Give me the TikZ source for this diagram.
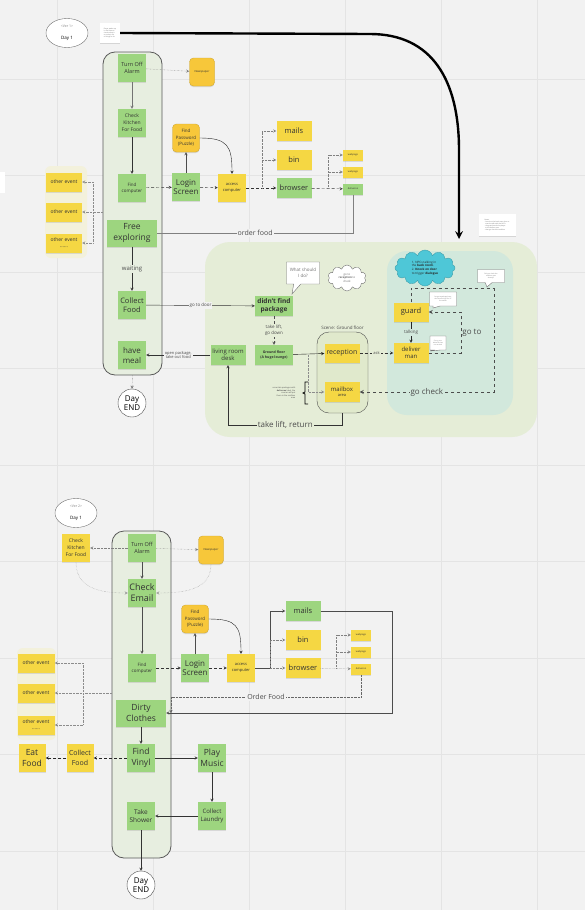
\documentclass[tikz,border=0pt]{standalone}
\usepackage{fontspec}
\setmainfont{Open Sans}
\usetikzlibrary{positioning,shapes.geometric,shapes.symbols,shapes.callouts,shadows}

\definecolor{board}{HTML}{F2F2F2}
\definecolor{gridline}{HTML}{E4E4E4}
\definecolor{notegreen}{HTML}{9DD57F}
\definecolor{noteyellow}{HTML}{F5D743}
\definecolor{noteorange}{HTML}{F7C73A}
\definecolor{lanefill}{HTML}{E7EEE0}
\definecolor{scenefill}{HTML}{E5EDD7}
\definecolor{roomfill}{HTML}{E0E9CC}
\definecolor{npcfill}{HTML}{D2E8DC}
\definecolor{cloudcyan}{HTML}{4EC7D7}
\definecolor{glow}{HTML}{F3F1DC}

\newcommand{\sz}[2]{\fontsize{#1}{#2}\selectfont}

\tikzset{
  sticky/.style={minimum width=28pt,minimum height=28pt,inner sep=1pt,align=center,
    text=black!80,drop shadow={shadow xshift=0pt,shadow yshift=-1.2pt,opacity=.22}},
  green note/.style={sticky,fill=notegreen},
  yellow note/.style={sticky,fill=noteyellow},
  orange note/.style={sticky,fill=noteorange,draw=noteorange!85!black,rounded corners=4pt,
    minimum width=25pt},
  wide note/.style={minimum width=35pt,minimum height=20pt},
  web note/.style={minimum width=20pt,minimum height=11pt,inner sep=0pt,font=\sz{2.4}{3}},
  paper/.style={fill=white,inner sep=1pt,align=left,text=black!60,font=\sz{1.6}{2},
    drop shadow={shadow xshift=0pt,shadow yshift=-1pt,opacity=.25}},
  lane/.style={draw=black!65,fill=lanefill,rounded corners=12pt,thick},
  day end/.style={circle,draw=black!70,fill=white,minimum size=28pt,inner sep=0pt,
    align=center,font=\sz{8}{9}},
  ver/.style={ellipse,draw=black!55,fill=white,minimum width=42pt,minimum height=29pt,
    inner sep=0pt,align=center},
  talk/.style={rectangle callout,draw=black!55,fill=white,align=center,text=black!55,
    inner sep=1pt},
  lbl/.style={inner sep=1pt,align=center,text=black!70},
}

\begin{document}
\begin{tikzpicture}[x=1pt,y=-1pt,>=stealth]
  \useasboundingbox (0,0) rectangle (585,910);
  \fill[board] (0,0) rectangle (585,910);
  \foreach \gx in {57,153,...,537}
    \draw[gridline,line width=1pt] (\gx,0) -- (\gx,910);
  \foreach \gy in {79,175.5,...,900}
    \draw[gridline,line width=1pt] (0,\gy) -- (585,\gy);

  % ---------- day 1 ----------
  \fill[white] (-5,172) rectangle (5,193);
  \node[ver] (day1) at (67,33) {{\sz{3.5}{4}\color{black!50}<Ver 1>}\\{\sz{4.5}{5}Day 1}};
  \node[paper,minimum width=20pt,minimum height=20pt] (memo1) at (110,33)
    {Player wakes up\\in the flat and\\checks what is\\on today's list\\of things to do};

  \node[lane,minimum width=59pt,minimum height=323pt] (lane1) at (132.5,213.5) {};
  \fill[glow,rounded corners=6pt] (45,166) rectangle (87,258);
  \fill[scenefill,rounded corners=25pt] (205,242) rectangle (537,437);
  \fill[npcfill,rounded corners=20pt] (387,251) rectangle (513,415);

  \node[green note,font=\sz{5.5}{7}] (alarm1) at (132,68) {Turn Off\\Alarm};
  \node[orange note,font=\sz{2.8}{3}] (paper1) at (202,72) {Newspaper};
  \node[green note,font=\sz{5}{7}] (kitchen1) at (132,123) {Check\\Kitchen\\For Food};
  \node[green note,font=\sz{4.5}{6}] (comp1) at (132,188) {Find\\computer};
  \node[orange note,minimum width=27pt,font=\sz{4.5}{6.5}] (pass1) at (186,138) {Find\\Password\\(Puzzle)};
  \node[green note,font=\sz{8}{9.5}] (login1) at (186,187) {Login\\Screen};
  \node[yellow note,font=\sz{4}{5.5}] (access1) at (232,188) {access\\computer};
  \node[yellow note,wide note,font=\sz{7.5}{8}] (mails1) at (294,131) {mails};
  \node[yellow note,wide note,font=\sz{7.5}{8}] (bin1) at (294,160) {bin};
  \node[green note,wide note,font=\sz{7.5}{8}] (browser1) at (294,188) {browser};
  \node[yellow note,web note] (web1a) at (353,155) {webpage};
  \node[yellow note,web note] (web1b) at (353,172) {webpage};
  \node[green note,web note] (deliv1) at (353,189) {deliveroo};
  \node[yellow note,minimum width=36pt,minimum height=19pt,font=\sz{5}{6}] (other1a) at (64,182) {other event};
  \node[yellow note,minimum width=36pt,minimum height=19pt,font=\sz{5}{6}] (other1b) at (64,212) {other event};
  \node[yellow note,minimum width=36pt,minimum height=19pt,font=\sz{5}{6}] (other1c) at (64,243) {other event\\......};
  \node[green note,minimum width=50pt,minimum height=27pt,font=\sz{8.5}{11}] (explore1) at (132,233) {Free\\exploring};
  \node[green note,font=\sz{7.5}{9.5}] (food1) at (132,305) {Collect\\Food};
  \node[green note,font=\sz{8}{10}] (meal1) at (132,355) {have\\meal};
  \node[day end] (end1) at (132,403) {Day\\END};

  % ground floor scene
  \node[green note,minimum width=38pt,minimum height=20pt,font=\sz{6.5}{7.5}\bfseries] (nofind) at (274,306) {didn't find\\package};
  \node[talk,minimum width=33pt,minimum height=22pt,font=\sz{4.5}{6},
    callout absolute pointer={(292,294)}] (what1) at (303,273) {What should\\I do?};
  \node[cloud,cloud puffs=10,aspect=1.5,draw=black!55,fill=white,minimum width=38pt,
    minimum height=26pt,inner sep=0pt,align=center,font=\sz{2.8}{3.4},text=black!60] (hint1) at (347,278)
    {go to\\\textbf{reception} to\\check};
  \node[green note,minimum width=38pt,minimum height=20pt,font=\sz{3.5}{4.5}\bfseries] (ground) at (274,355) {Ground floor\\(A huge lounge)};
  \node[green note,minimum width=35pt,minimum height=20pt,font=\sz{6}{7}] (desk) at (228,355) {living room\\desk};
  \node[lane,thin,draw=black!70,fill=roomfill,minimum width=51pt,minimum height=81pt] (scene1) at (342.5,372.5) {};
  \node[lbl,font=\sz{4.5}{5},above=1pt of scene1] (scenetitle) {Scene: Ground floor};
  \node[yellow note,wide note,minimum height=19pt,font=\sz{7}{8}] (reception) at (342,353) {reception};
  \node[yellow note,wide note,font=\sz{6}{5}] (mailbox) at (342,392) {mailbox\\{\sz{4}{5}area}};
  \node[lbl,align=right,font=\sz{2}{2.6}] (mailtip) at (284,393)
    {uncertain packages with\\\textbf{deliveroo} label, the\\courier will put\\them in the mailbox\\area};
  \draw[thick] (308,382) -- (305,382) -- (305,392) -- (303,393) -- (305,394) -- (305,404) -- (308,404);

  % npc room
  \node[cloud,cloud puffs=12,aspect=1.7,fill=cloudcyan,draw=cloudcyan!80!black,minimum width=60pt,
    minimum height=36pt,inner sep=0pt,align=left,font=\sz{3}{3.8},text=black!85] (npc1) at (425,268)
    {1. NPCs talking in\\the \textbf{back room}.\\2. \textbf{Knock on door}\\to trigger \textbf{dialogue}};
  \node[yellow note,wide note,minimum height=19pt,font=\sz{7.5}{8}] (guard) at (411,312) {guard};
  \node[yellow note,wide note,font=\sz{6}{7}] (deliver) at (411,353) {deliver\\man};
  \node[talk,minimum width=27pt,minimum height=14pt,font=\sz{1.6}{2.2},
    callout absolute pointer={(433,308)}] (say1) at (443,299) {I've got a package here,\\who should sign for it?\\the owner};
  \node[talk,minimum width=16pt,minimum height=14pt,font=\sz{1.6}{2.2},
    callout absolute pointer={(430,351)}] (say2) at (438,343) {Sorry, your\\deliveroo has\\not arrived};
  \node[talk,minimum width=27pt,minimum height=13pt,font=\sz{1.6}{2.2},
    callout absolute pointer={(487,287)}] (say3) at (491,276) {Did you check the\\mailbox area\\already?};
  \node[paper,minimum width=37pt,minimum height=22pt] (memo2) at (497,225)
    {Notes:\\- knock on the back room door to\\\ \ start the talk with the NPCs\\- the guard sends the player\\\ \ to the deliver man\\- then go check the mailbox};

  % ---------- day 1 connectors ----------
  \draw[line width=2.4pt,->] (memo1.east) -- (370,34) .. controls (432,34) and (459,80) .. (459,150) -- (459,239);
  \draw[->,densely dotted,black!50] (alarm1) -- (paper1);
  \draw[->,black!55] (alarm1) -- (kitchen1);
  \draw[->,black!80] (kitchen1) -- (comp1);
  \draw[->,densely dashed,black!80] (comp1) -- (login1);
  \draw[->,black!70] (login1) -- (pass1);
  \draw[->,black!85] (pass1.east) .. controls +(28,0) and +(0,-28) .. (access1.north);
  \draw[->,densely dashed,black!80] (login1) -- (access1);
  \draw[->,densely dashed,black!80] (access1) -- (browser1);
  \draw[->,densely dotted,black!50] (262,188) |- (mails1.west);
  \draw[->,densely dotted,black!50] (262,188) |- (bin1.west);
  \draw[->,densely dashed,black!80] (browser1) -- (deliv1);
  \draw[->,densely dotted,black!50] (328,188) |- (web1a.west);
  \draw[->,densely dotted,black!50] (328,188) |- (web1b.west);
  \draw[black!50] (deliv1.south) |- (explore1.east) node[pos=.75,lbl,fill=board,font=\sz{7}{8}] {order food};
  \coordinate (fork1) at (93,212);
  \draw[densely dotted,black!45] (lane1.west |- other1b) -- (fork1);
  \draw[->,densely dotted,black!45] (fork1) |- (other1a.east);
  \draw[->,densely dotted,black!45] (fork1) -- (other1b.east);
  \draw[->,densely dotted,black!45] (fork1) |- (other1c.east);
  \path[->,black!80]
    (explore1) edge node[lbl,fill=lanefill,font=\sz{6}{7}] {waiting} (food1)
    (food1) edge node[lbl,fill=board,font=\sz{4.5}{5}] {go to door} (nofind)
    (desk) edge node[lbl,fill=board,font=\sz{4}{4.8}] {open package,\\take out food} (meal1);
  \draw[->,densely dotted,black!60] (lane1.south) -- (end1.north);

  % ---------- ground floor / npc connectors ----------
  \draw[->,densely dashed,black!70] (nofind) -- (ground) node[midway,lbl,fill=scenefill,font=\sz{4.5}{5.5}] {take lift,\\go down};
  \draw[->,black!90] (ground) -- (reception);
  \draw[->,densely dotted,black!45] (308,355) |- (mailbox.west);
  \draw[->,densely dashed,black!80] (reception) -- (deliver) node[midway,lbl,fill=scenefill,font=\sz{4}{5}] {ask};
  \draw[->,black!85] (guard) -- (deliver) node[midway,lbl,fill=npcfill,font=\sz{4.5}{5}] {talking};
  \coordinate (goto) at (461,312);
  \draw[->,dashed,thick,black!70] (deliver.east) -| (goto) node[pos=.75,right,lbl,font=\sz{8}{9}] {go to} |- (guard.east);
  \coordinate (check) at (494,288);
  \draw[dashed,thick,black!70] (guard.north) |- (check);
  \draw[->,dashed,thick,black!70] (check) |- (mailbox.east) node[pos=.75,lbl,fill=npcfill,font=\sz{8}{9}] {go check};
  \draw[->,black!80] (scene1.south) -- ++(0,12) -| (desk.south) node[pos=.25,lbl,fill=scenefill,font=\sz{8}{9}] {take lift, return};

  % ---------- day 2 ----------
  \node[ver] (day2) at (76,513) {{\sz{3.5}{4}\color{black!50}<Ver 2>}\\{\sz{4.5}{5}Day 1}};
  \node[lane,minimum width=59pt,minimum height=327pt] (lane2) at (141.5,694.5) {};
  \fill[glow,rounded corners=6pt] (17,648) rectangle (56,740);

  \node[yellow note,font=\sz{5}{7}] (kitchen2) at (76,548) {Check\\Kitchen\\For Food};
  \node[green note,font=\sz{5.5}{7}] (alarm2) at (142,548) {Turn Off\\Alarm};
  \node[orange note,font=\sz{2.8}{3}] (paper2) at (211,550) {Newspaper};
  \node[green note,font=\sz{9}{11}] (email2) at (142,593) {Check\\Email};
  \node[orange note,minimum width=27pt,font=\sz{4.5}{6.5}] (pass2) at (195,619) {Find\\Password\\(Puzzle)};
  \node[green note,font=\sz{4.5}{6}] (comp2) at (142,668) {Find\\computer};
  \node[green note,font=\sz{8}{9.5}] (login2) at (195,668) {Login\\Screen};
  \node[yellow note,font=\sz{4}{5.5}] (access2) at (241,668) {access\\computer};
  \node[green note,wide note,font=\sz{7.5}{8}] (mails2) at (303,611) {mails};
  \node[yellow note,wide note,font=\sz{7.5}{8}] (bin2) at (303,640) {bin};
  \node[yellow note,wide note,font=\sz{7.5}{8}] (browser2) at (303,668) {browser};
  \node[yellow note,web note] (web2a) at (361,635) {webpage};
  \node[yellow note,web note] (web2b) at (361,652) {webpage};
  \node[yellow note,web note] (deliv2) at (361,669) {deliveroo};
  \node[yellow note,minimum width=37pt,minimum height=19pt,font=\sz{5}{6}] (other2a) at (36,663) {other event};
  \node[yellow note,minimum width=37pt,minimum height=19pt,font=\sz{5}{6}] (other2b) at (36,693) {other event};
  \node[yellow note,minimum width=37pt,minimum height=19pt,font=\sz{5}{6}] (other2c) at (36,725) {other event\\......};
  \node[green note,minimum width=50pt,minimum height=27pt,font=\sz{8.5}{11}] (clothes2) at (141,713) {Dirty\\Clothes};
  \node[green note,font=\sz{8.5}{10.5}] (vinyl2) at (141,758) {Find\\Vinyl};
  \node[yellow note,minimum width=27pt,font=\sz{7}{9.5}] (cfood2) at (80,758) {Collect\\Food};
  \node[yellow note,minimum width=27pt,font=\sz{8.5}{10.5}] (eat2) at (32,758) {Eat\\Food};
  \node[green note,font=\sz{8.5}{10.5}] (music2) at (212,758) {Play\\Music};
  \node[green note,font=\sz{6}{8}] (laundry2) at (212,816) {Collect\\Laundry};
  \node[green note,font=\sz{6.5}{8.5}] (shower2) at (141,816) {Take\\Shower};
  \node[day end] (end2) at (141,885) {Day\\END};

  % ---------- day 2 connectors ----------
  \draw[->,densely dotted,black!50] (alarm2) -- (kitchen2);
  \draw[->,densely dotted,black!50] (alarm2) -- (paper2);
  \draw[->,black!70] (alarm2) -- (email2);
  \draw[->,densely dotted,black!40] (kitchen2.south) .. controls +(0,25) and +(-30,0) .. (email2.west);
  \draw[->,densely dotted,black!40] (paper2.south) .. controls +(0,25) and +(30,0) .. (email2.east);
  \draw[->,black!70] (email2) -- (comp2);
  \draw[->,densely dashed,black!80] (comp2) -- (login2);
  \draw[->,black!70] (login2) -- (pass2);
  \draw[->,black!85] (pass2.east) .. controls +(28,0) and +(0,-28) .. (access2.north);
  \draw[->,densely dashed,black!80] (login2) -- (access2);
  \draw[black!70] (access2.east) -- (270,668);
  \draw[->,black!70] (270,668) |- (mails2.west);
  \draw[->,densely dotted,black!50] (270,668) |- (bin2.west);
  \draw[->,densely dotted,black!50] (270,668) -- (browser2.west);
  \draw[->,densely dotted,black!50] (browser2) -- (deliv2);
  \draw[->,densely dotted,black!50] (336,668) |- (web2a.west);
  \draw[->,densely dotted,black!50] (336,668) |- (web2b.west);
  \coordinate (order2) at (171,697);
  \draw[densely dotted,black!60] (deliv2.south) |- (order2) node[pos=.75,lbl,fill=board,font=\sz{7}{8}] {Order Food};
  \draw[->,densely dotted,black!60] (order2) -- (order2 |- clothes2.east);
  \draw[->,black!70] (mails2.east) -- (392,611) |- (clothes2.east);
  \coordinate (fork2) at (83,693);
  \draw[densely dotted,black!45] (lane2.west |- other2b) -- (fork2);
  \draw[->,densely dotted,black!45] (fork2) |- (other2a.east);
  \draw[->,densely dotted,black!45] (fork2) -- (other2b.east);
  \draw[->,densely dotted,black!45] (fork2) |- (other2c.east);
  \draw[->,black!80] (clothes2) -- (vinyl2);
  \draw[->,densely dashed,black!85] (vinyl2) -- (cfood2);
  \draw[->,densely dashed,black!85] (cfood2) -- (eat2);
  \draw[->,black!80] (vinyl2) -- (music2);
  \draw[->,black!80] (music2) -- (laundry2);
  \draw[->,black!80] (laundry2) -- (shower2);
  \draw[->,black!80] (shower2) -- (end2);
\end{tikzpicture}
\end{document}
